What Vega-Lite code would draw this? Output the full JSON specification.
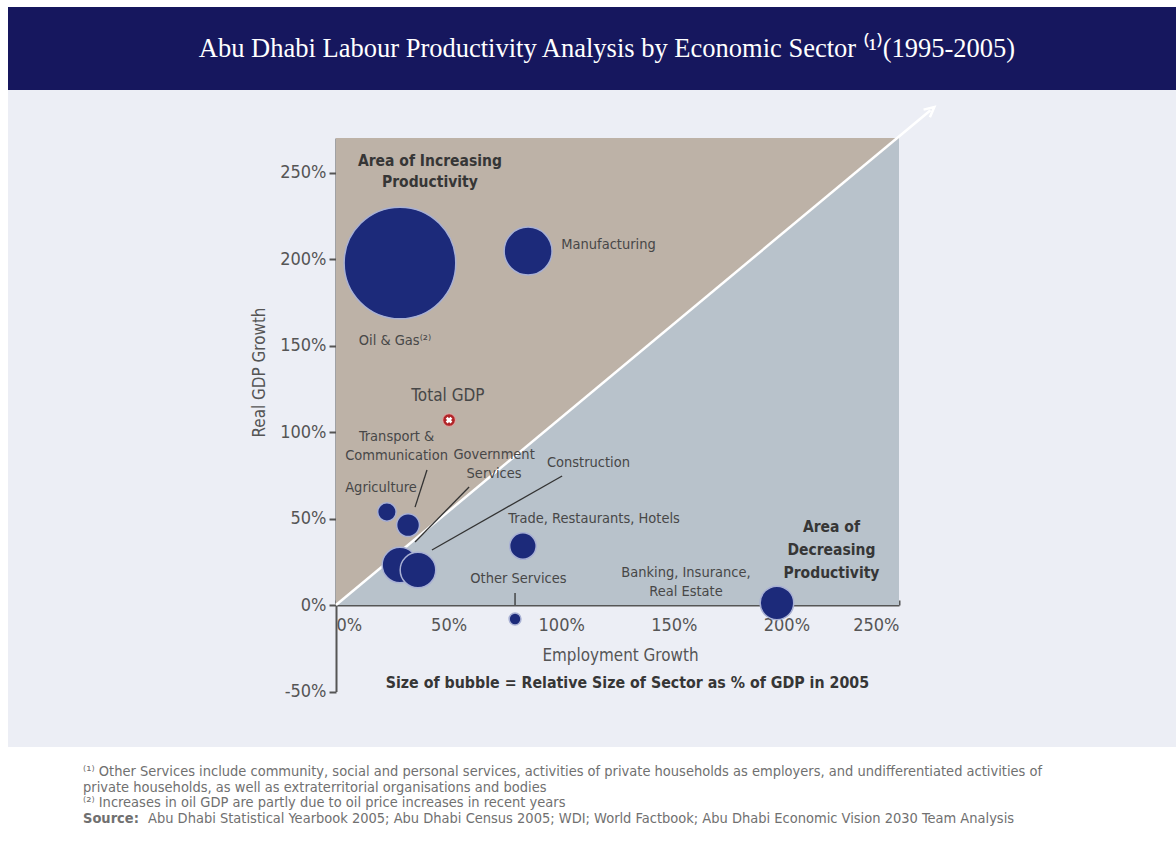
{
  "$schema": "https://vega.github.io/schema/vega-lite/v6.json",
  "background": "white",
  "padding": {"left": 8, "top": 7, "right": 0, "bottom": 0},
  "spacing": 0,
  "config": {"view": {"stroke": null}, "font": "DejaVu Sans Condensed, Liberation Sans, sans-serif", "concat": {"spacing": 0}},
  "vconcat": [
    {
      "width": 1168,
      "height": 83,
      "view": {"fill": "#16175e", "stroke": null},
      "data": {"values": [{"t": "Abu Dhabi Labour Productivity Analysis by Economic Sector ⁽¹⁾(1995-2005)"}]},
      "mark": {"type": "text", "color": "#ffffff", "font": "Liberation Serif", "fontSize": 26.5, "dx": 15, "baseline": "middle"},
      "encoding": {"text": {"field": "t"}}
    },
    {
      "width": 1168,
      "height": 657,
      "view": {"fill": "#eceef5", "stroke": null},
      "layer": [
        {
          "data": {"values": [{"x": 0, "x2": 250, "y": 0, "y2": 270}]},
          "mark": {"type": "rect", "fill": "#b8c2cb"},
          "encoding": {
            "x": {"field": "x", "type": "quantitative",
              "scale": {"domain": [0, 250], "range": [328, 891], "nice": false, "zero": false},
              "axis": {"title": "Employment Growth", "values": [0, 50, 100, 150, 200, 250], "labelExpr": "datum.value + '%'",
                "offset": -142, "grid": false, "domainColor": "#555555", "domainWidth": 2, "tickColor": "#555555", "tickWidth": 2, "tickSize": -5,
                "labelFontSize": 18, "labelColor": "#555555", "labelPadding": 16, "titleFontSize": 16.9, "titleColor": "#555555", "titleFontWeight": "normal",
                "titleX": 612, "titleY": 50, "titleBaseline": "middle"}},
            "x2": {"field": "x2"},
            "y": {"field": "y", "type": "quantitative",
              "scale": {"domain": [-50, 270], "range": [601.5, 47.9], "nice": false, "zero": false},
              "axis": {"title": "Real GDP Growth", "values": [-50, 0, 50, 100, 150, 200, 250], "labelExpr": "datum.value + '%'",
                "offset": -328, "grid": false, "domainColor": "#555555", "domainWidth": 2, "tickColor": "#555555", "tickWidth": 2, "tickSize": 7,
                "labelFontSize": 18, "labelColor": "#555555", "labelPadding": 3, "titleFontSize": 16.9, "titleColor": "#555555", "titleFontWeight": "normal",
                "titleX": -77, "titleY": 282, "titleBaseline": "middle", "titleAlign": "center"}},
            "y2": {"field": "y2"}
          }
        },
        {
          "data": {"values": [{"x": 0, "y": 0, "y2": 270}, {"x": 250, "y": 270, "y2": 270}]},
          "mark": {"type": "area", "fill": "#bdb2a7", "orient": "vertical"},
          "encoding": {
            "x": {"field": "x", "type": "quantitative"},
            "y": {"field": "y", "type": "quantitative"},
            "y2": {"field": "y2"}
          }
        },
        {
          "data": {"values": [{"x": 0, "y": 0}, {"x": 264, "y": 286}]},
          "mark": {"type": "line", "color": "#ffffff", "strokeWidth": 2.5},
          "encoding": {
            "x": {"field": "x", "type": "quantitative"},
            "y": {"field": "y", "type": "quantitative"}
          }
        },
        {
          "data": {"values": [{"x": 264, "y": 286}]},
          "mark": {"type": "point", "shape": "M-0.9,0.9L0,-0.9L0.9,0.9", "filled": false, "stroke": "#ffffff", "strokeWidth": 2.5, "size": 120, "angle": 50, "opacity": 1},
          "encoding": {
            "x": {"field": "x", "type": "quantitative"},
            "y": {"field": "y", "type": "quantitative"}
          }
        },
        {
          "data": {"values": [
            {"x": 40.4, "y": 78.0, "x2": 35.1, "y2": 56.6},
            {"x": 59.1, "y": 68.2, "x2": 35.1, "y2": 36.4},
            {"x": 100.4, "y": 74.6, "x2": 42.6, "y2": 31.8},
            {"x": 79.5, "y": 6.9, "x2": 79.5, "y2": 0}
          ]},
          "mark": {"type": "rule", "color": "#333333", "strokeWidth": 1.3},
          "encoding": {
            "x": {"field": "x", "type": "quantitative"},
            "y": {"field": "y", "type": "quantitative"},
            "x2": {"field": "x2"},
            "y2": {"field": "y2"}
          }
        },
        {
          "data": {"values": [
            {"sector": "Oil & Gas", "x": 28.4, "y": 197.7, "share": 62},
            {"sector": "Manufacturing", "x": 85.3, "y": 204.6, "share": 11.4},
            {"sector": "Agriculture", "x": 22.6, "y": 53.8, "share": 1.7},
            {"sector": "Transport & Communication", "x": 32, "y": 46.2, "share": 2.6},
            {"sector": "Government Services", "x": 28.4, "y": 23.1, "share": 6.3},
            {"sector": "Construction", "x": 36.4, "y": 20.2, "share": 6.3},
            {"sector": "Trade, Restaurants, Hotels", "x": 83, "y": 34.1, "share": 3.5},
            {"sector": "Other Services", "x": 79.5, "y": -8.1, "share": 0.7},
            {"sector": "Banking, Insurance, Real Estate", "x": 195.8, "y": 1.2, "share": 5.6}
          ]},
          "mark": {"type": "circle", "fill": "#1c2a7a", "stroke": "#a9b1d4", "strokeWidth": 1.5, "opacity": 1},
          "encoding": {
            "x": {"field": "x", "type": "quantitative"},
            "y": {"field": "y", "type": "quantitative"},
            "size": {"field": "share", "type": "quantitative", "scale": {"domain": [0, 62], "range": [0, 12470], "zero": true}, "legend": null}
          }
        },
        {
          "data": {"values": [{"x": 50.2, "y": 106.9}]},
          "layer": [
            {"mark": {"type": "circle", "fill": "#b02528", "stroke": "#e6a9a9", "strokeWidth": 1, "size": 160, "opacity": 1},
             "encoding": {"x": {"field": "x", "type": "quantitative"}, "y": {"field": "y", "type": "quantitative"}}},
            {"mark": {"type": "point", "shape": "cross", "filled": true, "fill": "#ffffff", "size": 45, "angle": 45, "opacity": 1},
             "encoding": {"x": {"field": "x", "type": "quantitative"}, "y": {"field": "y", "type": "quantitative"}}}
          ]
        },
        {
          "data": {"values": [
            {"x": 121, "y": 208.1, "label": "Manufacturing"},
            {"x": 26.2, "y": 152.6, "label": "Oil & Gas⁽²⁾"},
            {"x": 26.9, "y": 97.1, "label": "Transport &"},
            {"x": 26.9, "y": 86.1, "label": "Communication"},
            {"x": 70.2, "y": 86.7, "label": "Government"},
            {"x": 70.2, "y": 75.7, "label": "Services"},
            {"x": 112.1, "y": 82.1, "label": "Construction"},
            {"x": 20, "y": 67.6, "label": "Agriculture"},
            {"x": 114.6, "y": 49.7, "label": "Trade, Restaurants, Hotels"},
            {"x": 81, "y": 15.0, "label": "Other Services"},
            {"x": 155.4, "y": 18.5, "label": "Banking, Insurance,"},
            {"x": 155.4, "y": 7.5, "label": "Real Estate"}
          ]},
          "mark": {"type": "text", "align": "center", "baseline": "middle", "fontSize": 14.5, "color": "#474747"},
          "encoding": {
            "x": {"field": "x", "type": "quantitative"},
            "y": {"field": "y", "type": "quantitative"},
            "text": {"field": "label"}
          }
        },
        {
          "data": {"values": [{"x": 49.7, "y": 120.8, "label": "Total GDP"}]},
          "mark": {"type": "text", "align": "center", "baseline": "middle", "fontSize": 17, "color": "#474747"},
          "encoding": {
            "x": {"field": "x", "type": "quantitative"},
            "y": {"field": "y", "type": "quantitative"},
            "text": {"field": "label"}
          }
        },
        {
          "data": {"values": [
            {"x": 41.7, "y": 256.6, "label": "Area of Increasing"},
            {"x": 41.7, "y": 244.5, "label": "Productivity"},
            {"x": 220, "y": 45.1, "label": "Area of"},
            {"x": 220, "y": 31.8, "label": "Decreasing"},
            {"x": 220, "y": 18.5, "label": "Productivity"}
          ]},
          "mark": {"type": "text", "align": "center", "baseline": "middle", "fontSize": 15.5, "fontWeight": "bold", "color": "#363636"},
          "encoding": {
            "x": {"field": "x", "type": "quantitative"},
            "y": {"field": "y", "type": "quantitative"},
            "text": {"field": "label"}
          }
        },
        {
          "data": {"values": [{"x": 129.4, "y": -45.1, "label": "Size of bubble = Relative Size of Sector as % of GDP in 2005"}]},
          "mark": {"type": "text", "align": "center", "baseline": "middle", "fontSize": 15.8, "fontWeight": "bold", "color": "#363636"},
          "encoding": {
            "x": {"field": "x", "type": "quantitative"},
            "y": {"field": "y", "type": "quantitative"},
            "text": {"field": "label"}
          }
        }
      ]
    },
    {
      "width": 1168,
      "height": 109,
      "view": {"fill": "#ffffff", "stroke": null},
      "layer": [
        {
          "data": {"values": [
            {"x": 0, "line": 0, "t": "⁽¹⁾ Other Services include community, social and personal services, activities of private households as employers, and undifferentiated activities of"},
            {"x": 0, "line": 1, "t": "private households, as well as extraterritorial organisations and bodies"},
            {"x": 0, "line": 2, "t": "⁽²⁾ Increases in oil GDP are partly due to oil price increases in recent years"}
          ]},
          "mark": {"type": "text", "align": "left", "baseline": "middle", "fontSize": 14.5, "color": "#707070"},
          "encoding": {
            "x": {"field": "x", "type": "quantitative", "scale": {"domain": [0, 1], "range": [75, 1075]}, "axis": null},
            "y": {"field": "line", "type": "quantitative", "scale": {"domain": [0, 3], "range": [25, 72]}, "axis": null},
            "text": {"field": "t"}
          }
        },
        {
          "data": {"values": [{"x": 0, "line": 3, "t": "Source:"}]},
          "mark": {"type": "text", "align": "left", "baseline": "middle", "fontSize": 14.5, "fontWeight": "bold", "color": "#707070"},
          "encoding": {
            "x": {"field": "x", "type": "quantitative"},
            "y": {"field": "line", "type": "quantitative"},
            "text": {"field": "t"}
          }
        },
        {
          "data": {"values": [{"x": 0, "line": 3, "t": "Abu Dhabi Statistical Yearbook 2005; Abu Dhabi Census 2005; WDI; World Factbook; Abu Dhabi Economic Vision 2030 Team Analysis"}]},
          "mark": {"type": "text", "align": "left", "baseline": "middle", "fontSize": 14.5, "color": "#707070", "dx": 65},
          "encoding": {
            "x": {"field": "x", "type": "quantitative"},
            "y": {"field": "line", "type": "quantitative"},
            "text": {"field": "t"}
          }
        }
      ]
    }
  ]
}
